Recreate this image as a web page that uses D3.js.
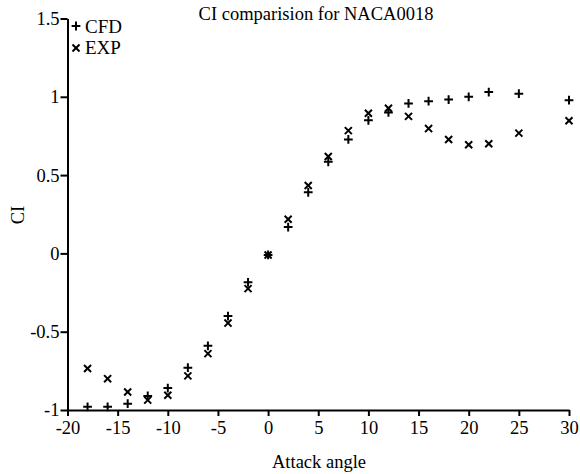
<!DOCTYPE html>
<meta charset="utf-8">
<script src="https://d3js.org/d3.v7.min.js"></script>
<style>
  body { margin: 0; background: #fff; }
  text { font-family: "Liberation Serif", "Times New Roman", serif; fill: #000; }
</style>
<svg id="chart" width="580" height="474"></svg>

<script>
// angles of attack and lift coefficients
const angles = [-18, -16, -14, -12, -10, -8, -6, -4, -2, 0, 2, 4, 6, 8, 10, 12, 14, 16, 18, 20, 22, 25, 30];
const cfd = [-0.98, -0.98, -0.96, -0.91, -0.86, -0.73, -0.59, -0.40, -0.185, -0.01, 0.168, 0.39, 0.585, 0.728, 0.85, 0.90, 0.958, 0.972, 0.982, 1.0, 1.03, 1.02, 0.978];
const exp = [-0.735, -0.80, -0.885, -0.937, -0.906, -0.782, -0.64, -0.445, -0.225, -0.01, 0.218, 0.434, 0.619, 0.784, 0.895, 0.927, 0.875, 0.797, 0.727, 0.694, 0.70, 0.768, 0.847];
const xTicks = [-20, -15, -10, -5, 0, 5, 10, 15, 20, 25, 30];
const yTicks = [-1, -0.5, 0, 0.5, 1, 1.5];

const svg = d3.select("#chart");
const margin = {top: 18.5, right: 11, bottom: 64, left: 67.5},
  width = 580 - margin.left - margin.right,
  height = 474 - margin.top - margin.bottom;

const g = svg.append("g")
  .attr("transform", `translate(${margin.left}, ${margin.top})`);

const x = d3.scaleLinear().domain([-20, 30]).range([0, width]);
const y = d3.scaleLinear().domain([-1, 1.5]).range([height, 0]);

const serif = '"Liberation Serif", "Times New Roman", serif';

// axes
const xAxis = g.append("g")
  .attr("transform", `translate(0, ${height})`)
  .call(d3.axisBottom(x).tickValues(xTicks).tickFormat(d => String(d))
    .tickSize(6).tickSizeOuter(0).tickPadding(5));

const yAxis = g.append("g")
  .call(d3.axisLeft(y).tickValues(yTicks).tickFormat(d => String(d))
    .tickSize(7).tickSizeOuter(0).tickPadding(1));

[xAxis, yAxis].forEach(a => {
  a.select(".domain").attr("stroke-width", 2);
  a.selectAll(".tick line").attr("stroke-width", 2);
  a.selectAll(".tick text")
    .style("font-family", serif)
    .style("font-size", "18.5px");
});

// points
const plus = d3.symbol(d3.symbolPlus, 27);
const times = d3.symbol(d3.symbolTimes, 34);

g.append("g").selectAll("path")
  .data(angles.map((a, i) => [a, exp[i]]))
  .join("path")
    .attr("d", times)
    .attr("transform", d => `translate(${x(d[0])}, ${y(d[1])})`)
    .attr("fill", "none")
    .attr("stroke", "#000")
    .attr("stroke-width", 2);

g.append("g").selectAll("path")
  .data(angles.map((a, i) => [a, cfd[i]]))
  .join("path")
    .attr("d", plus)
    .attr("transform", d => `translate(${x(d[0])}, ${y(d[1])})`)
    .attr("fill", "none")
    .attr("stroke", "#000")
    .attr("stroke-width", 2);

// legend
const legend = svg.append("g");
legend.append("path").attr("d", plus).attr("transform", "translate(76, 26)")
  .attr("fill", "none").attr("stroke", "#000").attr("stroke-width", 2);
legend.append("text").attr("x", 85).attr("y", 33).style("font-size", "19px").text("CFD");
legend.append("path").attr("d", times).attr("transform", "translate(76, 48)")
  .attr("fill", "none").attr("stroke", "#000").attr("stroke-width", 2);
legend.append("text").attr("x", 85).attr("y", 54).style("font-size", "19px").text("EXP");

// titles
svg.append("text")
  .attr("x", 316).attr("y", 20)
  .attr("text-anchor", "middle")
  .style("font-size", "18.5px")
  .text("CI comparision for NACA0018");

svg.append("text")
  .attr("x", 319).attr("y", 468)
  .attr("text-anchor", "middle")
  .style("font-size", "18.5px")
  .text("Attack angle");

svg.append("text")
  .attr("transform", "translate(24, 215) rotate(-90)")
  .attr("text-anchor", "middle")
  .style("font-size", "18.5px")
  .text("CI");
</script>
